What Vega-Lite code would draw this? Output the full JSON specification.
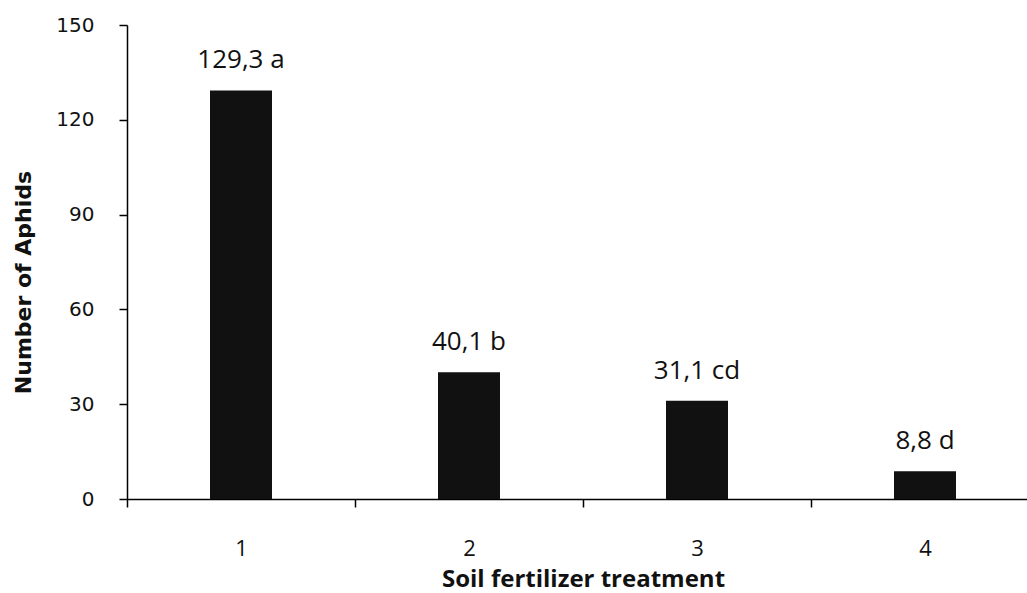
{
  "$schema": "https://vega.github.io/schema/vega-lite/v6.json",
  "autosize": {"type": "none"},
  "padding": {"left": 127, "top": 25, "right": 0, "bottom": 94},
  "width": 912,
  "height": 474,
  "background": "white",
  "data": {
    "values": [
      {"treatment": "1", "aphids": 129.3, "label": "129,3 a"},
      {"treatment": "2", "aphids": 40.1, "label": "40,1 b"},
      {"treatment": "3", "aphids": 31.1, "label": "31,1 cd"},
      {"treatment": "4", "aphids": 8.8, "label": "8,8 d"}
    ]
  },
  "config": {
    "view": {"stroke": null},
    "axis": {"domainColor": "black", "tickColor": "black", "labelColor": "#111", "titleColor": "#111", "grid": false}
  },
  "encoding": {
    "x": {
      "field": "treatment",
      "type": "nominal",
      "scale": {"paddingInner": 0, "paddingOuter": 0},
      "axis": {
        "title": "Soil fertilizer treatment",
        "labelAngle": 0,
        "tickBand": "extent",
        "tickSize": 8,
        "labelPadding": 31,
        "labelFont": "Open Sans",
        "labelFontSize": 22,
        "titleFont": "Open Sans",
        "titleFontWeight": "bold",
        "titleFontSize": 24,
        "titleBaseline": "alphabetic",
        "titleY": 87,
        "domainWidth": 1.5,
        "tickWidth": 1.5
      }
    }
  },
  "layer": [
    {
      "mark": {"type": "bar", "color": "#111", "width": 62},
      "encoding": {
        "y": {
          "field": "aphids",
          "type": "quantitative",
          "scale": {"domain": [0, 150], "nice": false},
          "axis": {
            "title": "Number of Aphids",
            "values": [0, 30, 60, 90, 120, 150],
            "tickSize": 8,
            "labelPadding": 25,
            "labelFont": "DejaVu Sans",
            "labelFontSize": 20,
            "titleFont": "DejaVu Sans",
            "titleFontWeight": "bold",
            "titleFontSize": 22,
            "titlePadding": 20,
            "titleY": 257,
            "domainWidth": 1.5,
            "tickWidth": 1.5
          }
        }
      }
    },
    {
      "mark": {"type": "text", "font": "Open Sans", "fontSize": 26, "baseline": "middle", "dy": -30, "color": "#111"},
      "encoding": {
        "y": {"field": "aphids", "type": "quantitative"},
        "text": {"field": "label"}
      }
    }
  ]
}
